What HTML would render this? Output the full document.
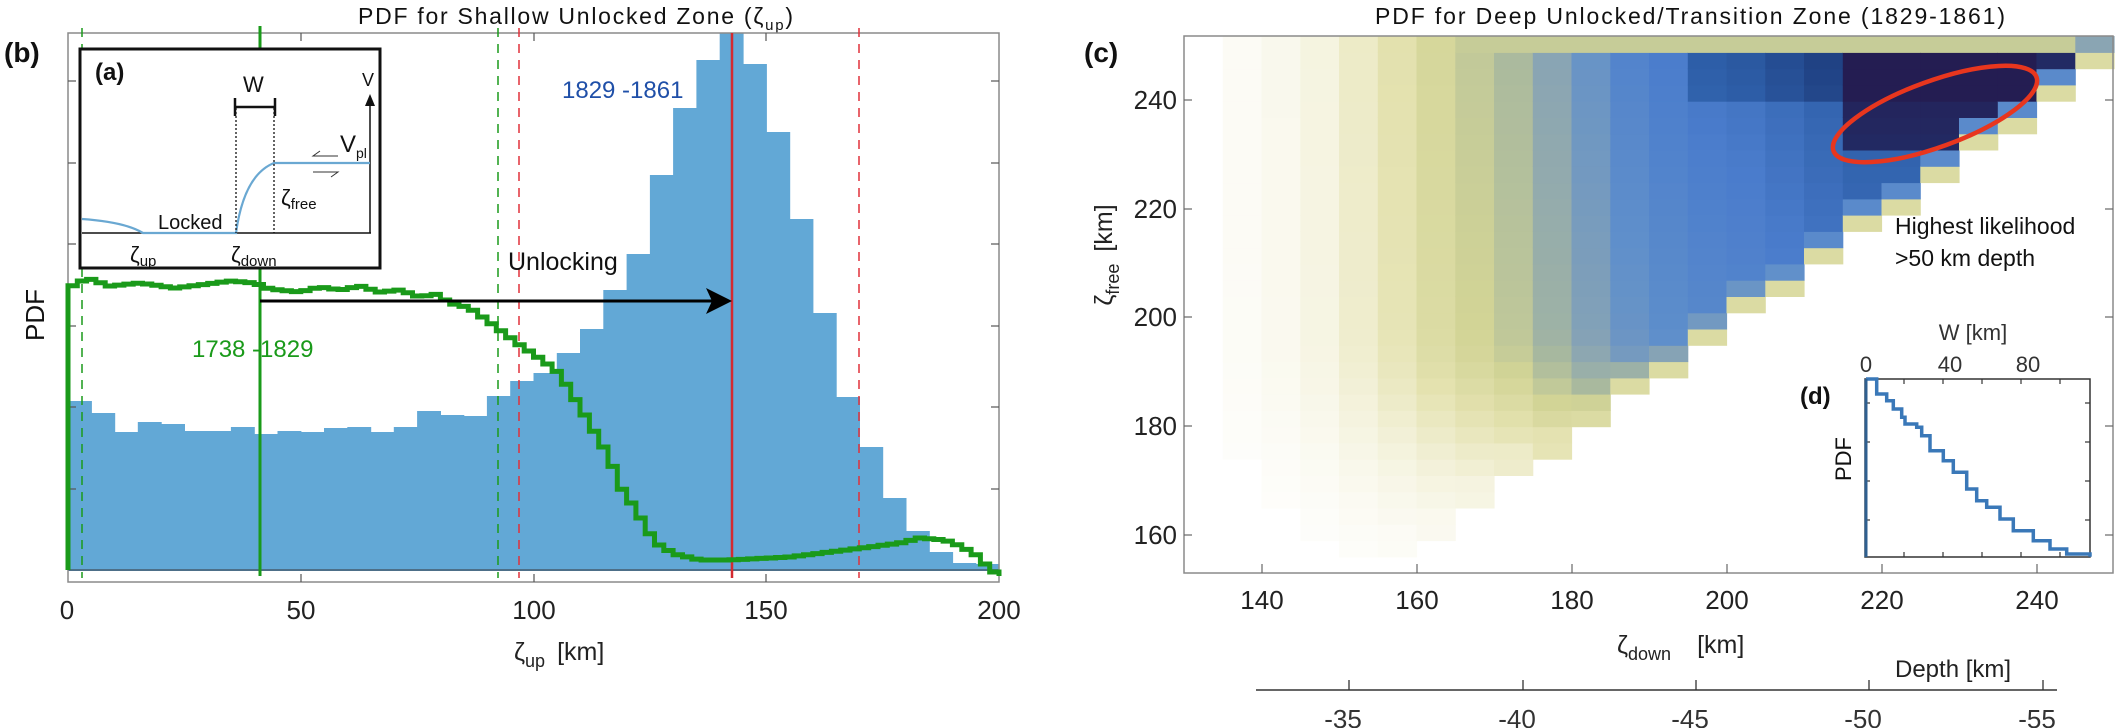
<!DOCTYPE html>
<html><head><meta charset="utf-8">
<style>
html,body{margin:0;padding:0;background:#fff;}
svg{display:block;font-family:"Liberation Sans",sans-serif;}
</style></head><body>
<svg id="s" width="2120" height="728" viewBox="0 0 2120 728" xmlns="http://www.w3.org/2000/svg">
<rect width="2120" height="728" fill="#fff"/>
<!-- LEFT PANEL -->
<text x="358" y="24" font-size="23" textLength="435" fill="#111">PDF for Shallow Unlocked Zone (ζ<tspan font-size="15" dy="6">up</tspan><tspan dy="-6">)</tspan></text>
<text x="4" y="62" font-size="28" font-weight="bold" fill="#111">(b)</text>
<g id="bars" fill="#62a8d6"></g>
<line x1="68" y1="570" x2="999" y2="570" stroke="#4d6f88" stroke-width="2"/>
<rect x="68" y="33" width="931" height="549" fill="none" stroke="#8a8a8a" stroke-width="1.5"/>
<g stroke="#555" stroke-width="1.2">
<line x1="68" y1="81" x2="76" y2="81"/><line x1="68" y1="163" x2="76" y2="163"/><line x1="68" y1="244" x2="76" y2="244"/><line x1="68" y1="326" x2="76" y2="326"/><line x1="68" y1="407" x2="76" y2="407"/><line x1="68" y1="489" x2="76" y2="489"/>
<line x1="999" y1="81" x2="991" y2="81"/><line x1="999" y1="163" x2="991" y2="163"/><line x1="999" y1="244" x2="991" y2="244"/><line x1="999" y1="326" x2="991" y2="326"/><line x1="999" y1="407" x2="991" y2="407"/><line x1="999" y1="489" x2="991" y2="489"/>
<line x1="301" y1="582" x2="301" y2="574"/><line x1="534" y1="582" x2="534" y2="574"/><line x1="766" y1="582" x2="766" y2="574"/>
<line x1="301" y1="33" x2="301" y2="41"/><line x1="534" y1="33" x2="534" y2="41"/><line x1="766" y1="33" x2="766" y2="41"/>
</g>
<g stroke-dasharray="9,7" stroke-width="1.5">
<line x1="82" y1="28" x2="82" y2="578" stroke="#1a9a1a"/>
<line x1="498" y1="28" x2="498" y2="578" stroke="#1a9a1a"/>
<line x1="519" y1="28" x2="519" y2="578" stroke="#e0303a"/>
<line x1="859" y1="28" x2="859" y2="578" stroke="#e0303a"/>
</g>
<line x1="732" y1="33" x2="732" y2="578" stroke="#d42a30" stroke-width="2.5"/>
<line x1="260" y1="26" x2="260" y2="576" stroke="#1a9a1a" stroke-width="3"/>
<path id="green" fill="none" stroke="#1a9a1a" stroke-width="5" stroke-linejoin="miter"/>
<line x1="260" y1="301" x2="712" y2="301" stroke="#000" stroke-width="3"/>
<polygon points="732,301 706,288 712,301 706,314" fill="#000"/>
<text x="508" y="270" font-size="25" fill="#111">Unlocking</text>
<text x="562" y="98" font-size="24" fill="#1f4fa8">1829 -1861</text>
<text x="192" y="357" font-size="24" fill="#1a9a1a">1738 -1829</text>
<text transform="translate(44,315) rotate(-90)" font-size="26" text-anchor="middle" fill="#111">PDF</text>
<g font-size="26" fill="#222" text-anchor="middle">
<text x="67" y="619">0</text><text x="301" y="619">50</text><text x="534" y="619">100</text><text x="766" y="619">150</text><text x="999" y="619">200</text>
</g>
<text x="514" y="660" font-size="25" fill="#222">ζ<tspan font-size="18" dy="7">up</tspan><tspan dy="-7" dx="12">[km]</tspan></text>
<!-- inset (a) -->
<rect x="80" y="49" width="300" height="219" fill="#fff" stroke="#111" stroke-width="3"/>
<text x="95" y="80" font-size="24" font-weight="bold" fill="#111">(a)</text>
<line x1="82" y1="233" x2="371" y2="233" stroke="#111" stroke-width="1.5"/>
<line x1="370" y1="233" x2="370" y2="100" stroke="#111" stroke-width="1.5"/>
<polygon points="370,94 365,106 375,106" fill="#111"/>
<text x="362" y="86" font-size="18" fill="#111">V</text>
<path d="M82,219 Q125,222 143,233 L236,233 Q244,175 274,163 L370,163" fill="none" stroke="#6aa8d2" stroke-width="2.2"/>
<g stroke="#111" stroke-width="1.3" stroke-dasharray="2,2"><line x1="236" y1="108" x2="236" y2="233"/><line x1="274" y1="108" x2="274" y2="233"/></g>
<g stroke="#111" stroke-width="2.5"><line x1="235" y1="107" x2="275" y2="107"/><line x1="235" y1="98" x2="235" y2="116"/><line x1="275" y1="98" x2="275" y2="116"/></g>
<text x="243" y="92" font-size="22" fill="#111">W</text>
<text x="158" y="229" font-size="20" fill="#111">Locked</text>
<text x="130" y="262" font-size="22" fill="#111">ζ<tspan font-size="15" dy="4">up</tspan></text>
<text x="231" y="262" font-size="22" fill="#111">ζ<tspan font-size="15" dy="4">down</tspan></text>
<text x="281" y="205" font-size="22" fill="#111">ζ<tspan font-size="15" dy="4">free</tspan></text>
<text x="340" y="152" font-size="24" fill="#111">V<tspan font-size="14" dy="6">pl</tspan></text>
<path d="M338,156 L313,156 L320,151" fill="none" stroke="#333" stroke-width="1"/>
<path d="M313,172 L338,172 L331,177" fill="none" stroke="#333" stroke-width="1"/>

<!-- RIGHT PANEL -->
<text x="1375" y="24" font-size="23" textLength="630" fill="#111">PDF for Deep Unlocked/Transition Zone (1829-1861)</text>
<text x="1084" y="62" font-size="28" font-weight="bold" fill="#111">(c)</text>
<g id="heat"></g>
<rect x="1184" y="36" width="929" height="537" fill="none" stroke="#8a8a8a" stroke-width="1.5"/>
<g stroke="#666" stroke-width="1.2">
<line x1="1184" y1="100" x2="1192" y2="100"/><line x1="1184" y1="209" x2="1192" y2="209"/><line x1="1184" y1="317" x2="1192" y2="317"/><line x1="1184" y1="426" x2="1192" y2="426"/><line x1="1184" y1="535" x2="1192" y2="535"/>
<line x1="2113" y1="100" x2="2105" y2="100"/><line x1="2113" y1="209" x2="2105" y2="209"/><line x1="2113" y1="317" x2="2105" y2="317"/><line x1="2113" y1="426" x2="2105" y2="426"/><line x1="2113" y1="535" x2="2105" y2="535"/>
<line x1="1262" y1="573" x2="1262" y2="564"/><line x1="1417" y1="573" x2="1417" y2="564"/><line x1="1572" y1="573" x2="1572" y2="564"/><line x1="1727" y1="573" x2="1727" y2="564"/><line x1="1882" y1="573" x2="1882" y2="564"/><line x1="2037" y1="573" x2="2037" y2="564"/>
</g>
<g font-size="26" fill="#222" text-anchor="end">
<text x="1177" y="109">240</text><text x="1177" y="218">220</text><text x="1177" y="326">200</text><text x="1177" y="435">180</text><text x="1177" y="544">160</text>
</g>
<g font-size="26" fill="#222" text-anchor="middle">
<text x="1262" y="609">140</text><text x="1417" y="609">160</text><text x="1572" y="609">180</text><text x="1727" y="609">200</text><text x="1882" y="609">220</text><text x="2037" y="609">240</text>
</g>
<text transform="translate(1112,255) rotate(-90)" font-size="25" text-anchor="middle" fill="#222">ζ<tspan font-size="18" dy="7">free</tspan><tspan dy="-7" dx="12">[km]</tspan></text>
<text x="1617" y="653" font-size="25" fill="#222">ζ<tspan font-size="18" dy="7">down</tspan><tspan dy="-7" dx="26">[km]</tspan></text>
<ellipse cx="1935" cy="114" rx="108" ry="33" transform="rotate(-20 1935 114)" fill="none" stroke="#e8361e" stroke-width="4.5"/>
<text x="1895" y="234" font-size="23" fill="#111">Highest likelihood</text>
<text x="1895" y="266" font-size="23" fill="#111">&gt;50 km depth</text>
<!-- inset d -->
<rect x="1865" y="379" width="225" height="178" fill="#fff" stroke="#333" stroke-width="1.5"/>
<g stroke="#333" stroke-width="1.2">
<line x1="1904" y1="557" x2="1904" y2="552"/><line x1="1943" y1="557" x2="1943" y2="552"/><line x1="1982" y1="557" x2="1982" y2="552"/><line x1="2021" y1="557" x2="2021" y2="552"/><line x1="2060" y1="557" x2="2060" y2="552"/>
<line x1="1904" y1="379" x2="1904" y2="384"/><line x1="1943" y1="379" x2="1943" y2="384"/><line x1="1982" y1="379" x2="1982" y2="384"/><line x1="2021" y1="379" x2="2021" y2="384"/><line x1="2060" y1="379" x2="2060" y2="384"/>
<line x1="1865" y1="403" x2="1870" y2="403"/><line x1="1865" y1="442" x2="1870" y2="442"/><line x1="1865" y1="481" x2="1870" y2="481"/><line x1="1865" y1="520" x2="1870" y2="520"/>
<line x1="2090" y1="403" x2="2085" y2="403"/><line x1="2090" y1="442" x2="2085" y2="442"/><line x1="2090" y1="481" x2="2085" y2="481"/><line x1="2090" y1="520" x2="2085" y2="520"/>
</g>
<path id="dline" fill="none" stroke="#3a78b8" stroke-width="3.5"/>
<line x1="1866" y1="557" x2="1866" y2="379" stroke="#2f5f8f" stroke-width="3"/>
<text x="1800" y="404" font-size="24" font-weight="bold" fill="#111">(d)</text>
<text transform="translate(1851,459) rotate(-90)" font-size="22" text-anchor="middle" fill="#111">PDF</text>
<text x="1973" y="340" font-size="22" text-anchor="middle" fill="#333">W [km]</text>
<g font-size="22" fill="#333" text-anchor="middle"><text x="1866" y="372">0</text><text x="1950" y="372">40</text><text x="2028" y="372">80</text></g>
<line x1="1256" y1="690" x2="2057" y2="690" stroke="#333" stroke-width="1.5"/>
<g stroke="#333" stroke-width="1.3"><line x1="1349" y1="690" x2="1349" y2="680"/><line x1="1523" y1="690" x2="1523" y2="680"/><line x1="1696" y1="690" x2="1696" y2="680"/><line x1="1869" y1="690" x2="1869" y2="680"/><line x1="2043" y1="690" x2="2043" y2="680"/></g>
<g font-size="26" fill="#333" text-anchor="middle"><text x="1343" y="728">-35</text><text x="1517" y="728">-40</text><text x="1690" y="728">-45</text><text x="1863" y="728">-50</text><text x="2037" y="728">-55</text></g>
<text x="1895" y="677" font-size="24" fill="#222">Depth [km]</text>
</svg>
<script>
(function(){
var NS="http://www.w3.org/2000/svg";
function el(p,t,a){var e=document.createElementNS(NS,t);for(var k in a)e.setAttribute(k,a[k]);p.appendChild(e);return e;}
var tops=[401,413,432,422,424,431,431,427,434,431,432,428,427,432,427,411,415,416,396,381,373,353,329,290,254,175,108,60,33,64,132,219,313,397,447,498,531,552,563,564];
var g=document.getElementById('bars');var bw=931/40;
for(var i=0;i<40;i++){var x=68+i*bw;el(g,'rect',{x:x.toFixed(1),y:tops[i],width:(bw+0.6).toFixed(1),height:570-tops[i]});}
var kp=[[68,289],[78,282],[90,279],[110,286],[140,283],[175,288],[200,285],[230,281],[255,283],[270,289],[300,292],[320,287],[340,290],[360,286],[380,292],[400,290],[420,297],[435,294],[450,303],[470,308],[500,330],[520,345],[545,362],[560,374],[570,391],[580,407],[590,424],[600,442],[610,457],[617,482],[630,501],[640,517],[650,534],[660,546],[675,554],[700,560],[730,560],[790,557],[830,552],[870,547],[900,543],[920,538],[945,540],[960,546],[975,554],[985,564],[999,576]];
function interp(x){for(var j=0;j<kp.length-1;j++){if(x<=kp[j+1][0]){var t=(x-kp[j][0])/(kp[j+1][0]-kp[j][0]);return kp[j][1]+t*(kp[j+1][1]-kp[j][1]);}}return kp[kp.length-1][1];}
var st=931/100,d="M68,570 L68,"+interp(68).toFixed(1),xx=68;
while(xx<999){var y=interp(xx+st/2);d+=" L"+xx.toFixed(1)+","+y.toFixed(1);xx=Math.min(999,xx+st);d+=" L"+xx.toFixed(1)+","+y.toFixed(1);}
document.getElementById('green').setAttribute('d',d);
var dp=[[810,45],[830,90],[860,110],[880,135],[905,160],[915,180],[950,190],[965,215],[990,260],[1030,290],[1060,325],[1100,375],[1130,410],[1160,430],[1200,465],[1240,500],[1300,530],[1350,555],[1400,570],[1470,578]];
var dd="M1866,379",py=379;
for(var k=0;k<dp.length;k++){var X=1600+dp[k][0]/3,Y=364+dp[k][1]/3;dd+=" L"+X.toFixed(1)+","+py.toFixed(1)+" L"+X.toFixed(1)+","+Y.toFixed(1);py=Y;}
document.getElementById('dline').setAttribute('d',dd);
var stops=[[0,[255,255,255]],[0.15,[244,242,220]],[0.3,[228,226,176]],[0.42,[210,212,150]],[0.52,[169,185,158]],[0.6,[138,165,179]],[0.7,[95,143,203]],[0.78,[74,124,204]],[0.86,[45,94,168]],[0.92,[31,63,128]],[1,[36,29,82]]];
function cmap(v){v=Math.max(0,Math.min(1,v));for(var j=0;j<stops.length-1;j++){if(v<=stops[j+1][0]){var t=(v-stops[j][0])/(stops[j+1][0]-stops[j][0]);var a=stops[j][1],b=stops[j+1][1];return "rgb("+Math.round(a[0]+t*(b[0]-a[0]))+","+Math.round(a[1]+t*(b[1]-a[1]))+","+Math.round(a[2]+t*(b[2]-a[2]))+")";}}return "rgb(36,29,82)";}
var base=[0.04,0.07,0.12,0.2,0.28,0.36,0.42,0.47,0.55,0.62,0.68,0.71,0.73,0.74,0.76,0.78,0.8,0.8,0.8,0.8,0.78,0.72,0.6];
var H=document.getElementById('heat');
for(var c=0;c<23;c++){var d0=135+5*c;var x=1184+(d0-130)*7.75;
 for(var r=0;r<33;r++){var f0=153+3*r;if(f0<d0-1)continue;
  var f=f0+1.5;var rf=f>=200?1+(f-200)*0.002:Math.exp(-Math.pow((200-f)/30,2));
  var v=base[c]*rf;
  if(d0>=215&&f0>=231&&f0<=246)v+=0.12;
  if(d0>=195&&f0>=240&&f0<=246)v+=0.06;
  var dist=f0-(d0-1);
  if(dist<3)v=Math.min(v,0.36);else if(dist<6)v=Math.min(v*0.9,0.72);
  if(f0>=249)v=(c>=22)?0.6:Math.min(v,0.45);
  var y=573-(f0+3-153)*5.4242;
  if(v<0.02)continue;
  el(H,'rect',{x:x.toFixed(1),y:y.toFixed(1),width:"39.3",height:"16.9",fill:cmap(v)});
 }}
})();
</script>
</body></html>
